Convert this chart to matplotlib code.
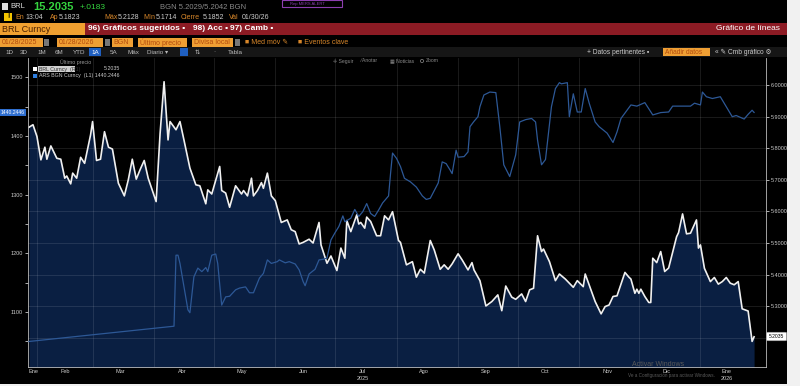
import matplotlib
matplotlib.use('Agg')

import numpy as np
import pandas as pd
import matplotlib.pyplot as plt
from matplotlib.patches import Rectangle, FancyBboxPatch, Ellipse

plt.rcParams['font.family'] = ['Liberation Sans', 'DejaVu Sans']

# days counted from 28/01/2025
start = pd.Timestamp('2025-01-28')

brl_day = [0, 2, 4, 6, 8, 9, 11, 14, 16, 18,
           19, 21, 22, 24, 26, 28, 30, 31, 32, 34,
           36, 38, 40, 42, 45, 48, 50, 52, 54, 56,
           58, 60, 64, 66, 68, 70, 71, 74, 76, 78,
           81, 84, 86, 89, 90, 92, 96, 97, 99, 101,
           104, 107, 108, 110, 112, 113, 115, 117, 118, 120,
           122, 124, 127, 130, 132, 134, 136, 138, 141, 143,
           146, 147, 150, 152, 155, 157, 159, 160, 162, 165,
           166, 167, 169, 170, 172, 175, 177, 179, 181, 183,
           186, 187, 190, 193, 195, 197, 199, 202, 204, 207,
           209, 211, 213, 216, 218, 221, 223, 224, 227, 230,
           233, 236, 238, 240, 243, 245, 248, 250, 252, 254,
           256, 258, 259, 262, 265, 267, 270, 274, 276, 279,
           280, 283, 285, 288, 290, 292, 294, 296, 300, 302,
           303, 305, 306, 307, 308, 310, 312, 313, 314, 316,
           318, 320, 322, 326, 327, 329, 331, 333, 336, 337,
           338, 340, 343, 345, 347, 349, 351, 353, 355, 357,
           359, 362, 364, 365]
brl_val = [5.866, 5.874, 5.837, 5.763, 5.803, 5.765, 5.807, 5.768, 5.765, 5.705,
           5.712, 5.687, 5.721, 5.705, 5.771, 5.752, 5.813, 5.842, 5.884, 5.761,
           5.765, 5.852, 5.803, 5.797, 5.689, 5.649, 5.700, 5.765, 5.702, 5.733,
           5.761, 5.705, 5.631, 5.847, 6.010, 5.826, 5.884, 5.858, 5.884, 5.826,
           5.737, 5.684, 5.681, 5.624, 5.668, 5.655, 5.742, 5.666, 5.658, 5.613,
           5.681, 5.655, 5.666, 5.649, 5.705, 5.649, 5.666, 5.691, 5.673, 5.721,
           5.649, 5.634, 5.565, 5.573, 5.542, 5.536, 5.497, 5.502, 5.512, 5.500,
           5.565, 5.494, 5.436, 5.459, 5.413, 5.484, 5.452, 5.571, 5.536, 5.589,
           5.560, 5.565, 5.547, 5.582, 5.568, 5.523, 5.523, 5.586, 5.573, 5.599,
           5.508, 5.502, 5.431, 5.441, 5.392, 5.417, 5.405, 5.508, 5.478, 5.417,
           5.431, 5.417, 5.434, 5.466, 5.447, 5.415, 5.438, 5.415, 5.381, 5.301,
           5.315, 5.336, 5.286, 5.364, 5.329, 5.322, 5.339, 5.315, 5.352, 5.357,
           5.523, 5.473, 5.481, 5.441, 5.381, 5.402, 5.386, 5.360, 5.381, 5.362,
           5.402, 5.350, 5.315, 5.276, 5.299, 5.304, 5.331, 5.333, 5.407, 5.392,
           5.386, 5.341, 5.354, 5.341, 5.354, 5.331, 5.312, 5.312, 5.452, 5.438,
           5.473, 5.410, 5.421, 5.520, 5.533, 5.592, 5.529, 5.531, 5.573, 5.484,
           5.494, 5.420, 5.378, 5.391, 5.370, 5.378, 5.391, 5.373, 5.368, 5.378,
           5.292, 5.285, 5.189, 5.2035]

ars_day = [0, 73, 74, 75, 76, 78, 80, 81, 83, 85,
           87, 89, 90, 92, 94, 95, 97, 99, 101, 104,
           106, 109, 111, 113, 116, 118, 120, 122, 125, 126,
           129, 131, 134, 136, 138, 139, 141, 144, 146, 148,
           150, 152, 154, 156, 158, 159, 162, 164, 166, 168,
           170, 172, 174, 176, 178, 180, 181, 182, 183, 185,
           187, 189, 192, 195, 198, 200, 202, 204, 206, 208,
           210, 212, 213, 215, 216, 219, 221, 222, 224, 226,
           227, 229, 232, 235, 237, 239, 242, 245, 247, 250,
           253, 255, 256, 258, 260, 263, 265, 267, 268, 271,
           272, 274, 276, 278, 280, 282, 285, 287, 291, 294,
           296, 298, 303, 306, 310, 314, 318, 322, 324, 333,
           335, 338, 339, 341, 344, 348, 351, 354, 356, 360,
           362, 364, 365]
ars_val = [1050, 1076, 1197, 1197, 1183, 1143, 1104, 1099, 1160, 1175,
           1169, 1176, 1169, 1197, 1199, 1183, 1112, 1126, 1127, 1138,
           1141, 1143, 1133, 1133, 1158, 1166, 1189, 1183, 1186, 1189,
           1184, 1186, 1182, 1172, 1152, 1145, 1165, 1173, 1189, 1190,
           1192, 1223, 1235, 1246, 1264, 1254, 1260, 1275, 1263, 1271,
           1285, 1268, 1263, 1274, 1286, 1294, 1298, 1336, 1371, 1362,
           1348, 1328, 1322, 1313, 1298, 1292, 1294, 1307, 1320, 1356,
           1353, 1342, 1336, 1376, 1364, 1365, 1373, 1416, 1425, 1433,
           1450, 1470, 1475, 1474, 1416, 1351, 1331, 1368, 1424, 1428,
           1430, 1424, 1393, 1351, 1360, 1450, 1481, 1491, 1489, 1491,
           1433, 1472, 1441, 1441, 1481, 1456, 1424, 1416, 1405, 1389,
           1407, 1430, 1453, 1451, 1457, 1436, 1440, 1441, 1451, 1451,
           1456, 1453, 1475, 1467, 1464, 1467, 1450, 1433, 1435, 1429,
           1437, 1444, 1440.2446]

month_names = ['Ene', 'Feb', 'Mar', 'Abr', 'May', 'Jun', 'Jul', 'Ago', 'Sep', 'Oct', 'Nov', 'Dic', 'Ene']
left_ticks = [1100, 1200, 1300, 1400, 1500]
right_ticks = [5.2, 5.3, 5.4, 5.5, 5.6, 5.7, 5.8, 5.9, 6.0]

W, H = 800, 386
fig = plt.figure(figsize=(8, 3.86), dpi=100, facecolor='#f1f1f1')


def fx(x):
    return x / W


def fy(y):
    return 1 - y / H


def box(x0, y0, x1, y1, color, z=1, **kw):
    fig.patches.append(Rectangle((fx(x0), fy(y1)), (x1 - x0) / W, (y1 - y0) / H,
                                 transform=fig.transFigure, facecolor=color,
                                 zorder=z, **kw))


def txt(x, y, s, color='white', size=5.5, **kw):
    kw.setdefault('zorder', 8)
    fig.text(fx(x), fy(y), s, color=color, fontsize=size, va='center', **kw)


# screenshot background
box(0, 0, 787, 384, 'black', z=-5)

# ---- header row 1
box(2, 3, 8, 10, '#dddddd')
txt(10, 7, 'BRL', '#dddddd', 5.5)
txt(33, 7.5, '15.2035', '#35d43f', 8, fontweight='bold')
txt(80, 7.5, '+.0183', '#35d43f', 6)
txt(160, 7.5, 'BGN 5.2029/5.2042 BGN', '#8a8a8a', 5.5)
box(282, 0, 342, 7, 'black', edgecolor='#8d3fb0', linewidth=0.8)
txt(290, 3.5, 'Rep MERS ALERT', '#8d3fb0', 3)

# ---- header row 2
box(4, 13, 12, 21, '#f2c400')
txt(8, 17, '!', 'black', 5, ha='center', fontweight='bold')
row2 = [(15, 'En', '#d8872a'), (25, '13:04', '#cccccc'), (50, 'Ap', '#d8872a'),
        (59, '5.1823', '#cccccc'), (104, 'Máx', '#d8872a'), (118, '5.2128', '#cccccc'),
        (143, 'Mín', '#d8872a'), (156, '5.1714', '#cccccc'), (181, 'Cierre', '#d8872a'),
        (203, '5.1852', '#cccccc'), (229, 'Val', '#d8872a'), (242, '01/30/26', '#cccccc')]
for x, s, c in row2:
    txt(x, 17.5, s, c, 5)

# ---- red bar
box(0, 23, 787, 35, '#8c1b24')
box(0, 23, 85, 35, '#f0a030')
txt(2, 29, 'BRL Curncy', '#4a2000', 6.5)
txt(88, 29, '96) Gráficos sugeridos ▪', 'white', 6, fontweight='bold')
txt(193, 29, '98) Acc ▪', 'white', 6, fontweight='bold')
txt(230, 29, '97) Camb ▪', 'white', 6, fontweight='bold')
txt(780, 29, 'Gráfico de líneas', 'white', 6, ha='right')

# ---- row 3: orange inputs
for x0, x1, s in [(0, 43, '01/28/2025'), (57, 103, '01/28/2026'), (112, 133, 'BGN'),
                  (138, 187, 'Último precio'), (192, 233, 'Divisa local')]:
    box(x0, 38, x1, 47, '#ef9f34')
    txt(x0 + 1.5, 42.5, s, '#b24a0c', 5)
for x in (44, 105, 235):
    box(x, 39, x + 5, 46, '#777777')
txt(245, 42.5, '■ Med móv ✎', '#d8872a', 5)
txt(298, 42.5, '■ Eventos clave', '#d8872a', 5)

# ---- row 4: periods
box(0, 47, 787, 57, '#161616')
for x, s in [(5, '1D'), (20, '3D'), (37, '1M'), (55, '6M'), (73, 'YTD'), (110, '5A'),
             (127, 'Máx'), (147, 'Diario ▾'), (195, '⇅'), (213, '·'), (228, 'Tabla')]:
    txt(x, 52, s, '#bbbbbb', 4.5)
box(89, 48, 101, 56, '#1f5fc0')
txt(91, 52, '1A', 'white', 4.5)
box(180, 48, 188, 56, '#1f5fc0')
txt(587, 52, '+ Datos pertinentes ▪', '#cccccc', 4.8)
box(663, 48, 710, 56, '#ef9f34')
txt(665, 52, 'Añadir datos', '#b24a0c', 4.8)
txt(715, 52, '« ✎ Cmb gráfico ⚙', '#cccccc', 4.8)

# ---- chart
ax = fig.add_axes([fx(28), fy(367), (766 - 28) / W, (367 - 58) / H])
ax.set_facecolor('black')
brl_dates = start + pd.to_timedelta(brl_day, unit='D')
ars_dates = start + pd.to_timedelta(ars_day, unit='D')

ax.fill_between(brl_dates, brl_val, 5.0, color='#0a1f42', lw=0, zorder=1)
ax.plot(brl_dates, brl_val, color='#f0f0f0', lw=1.2, zorder=4)
ax.set_ylim(5.108, 6.085)
ax.set_xlim(start - pd.Timedelta(days=0.5), start + pd.Timedelta(days=371))

month_starts = pd.date_range('2025-02-01', '2026-01-01', freq='MS')
mid_months = pd.date_range('2025-02-01', '2025-12-01', freq='MS') + pd.Timedelta(days=14)
label_pos = [pd.Timestamp('2025-01-30')] + list(mid_months) + [pd.Timestamp('2026-01-14')]
ax.set_xticks(month_starts)
ax.set_xticklabels([])
ax.set_xticks(label_pos, minor=True)
ax.set_xticklabels(month_names, minor=True)
ax.tick_params(axis='x', which='both', length=0, colors='#cccccc', labelsize=4, pad=1.5)
ax.grid(axis='y', color='white', alpha=0.12, lw=0.6)
ax.grid(axis='x', which='major', color='white', alpha=0.12, lw=0.6)
for sp in ['top', 'left']:
    ax.spines[sp].set_visible(False)
ax.spines['right'].set_color('#bbbbbb')
ax.spines['bottom'].set_color('#bbbbbb')
ax.spines['right'].set_linewidth(0.6)
ax.spines['bottom'].set_linewidth(0.6)

xt = ax.get_xaxis_transform()
ax.text(pd.Timestamp('2025-07-15'), -0.036, '2025', transform=xt, ha='center', va='center',
        color='#cccccc', fontsize=4)
ax.text(pd.Timestamp('2026-01-14'), -0.036, '2026', transform=xt, ha='center', va='center',
        color='#cccccc', fontsize=4)

ax2 = ax.twinx()
ax2.plot(ars_dates, ars_val, color='#2d5896', lw=0.9, zorder=3)
ax2.set_ylim(1006.5, 1533)

# twinx moves the first axis to the left, put things back
ax.yaxis.tick_right()
ax.yaxis.set_label_position('right')
ax.set_yticks(right_ticks)
ax.set_yticklabels(['' if v < 5.25 else '%.4f' % v for v in right_ticks])
ax.tick_params(axis='y', colors='#cccccc', labelsize=4, length=2, width=0.6, pad=1.5)

ax2.yaxis.tick_left()
ax2.yaxis.set_label_position('left')
ax2.set_yticks(left_ticks)
ax2.set_yticks(np.arange(1050, 1550, 100), minor=True)
ax2.tick_params(axis='y', which='both', colors='#cccccc', labelsize=4, length=2, width=0.6, pad=1.5)
ax2.spines['left'].set_visible(True)
ax2.spines['left'].set_color('#bbbbbb')
ax2.spines['left'].set_linewidth(0.6)
for sp in ['top', 'right', 'bottom']:
    ax2.spines[sp].set_visible(False)

# chart toolbar
for x, s in [(333, '✛ Seguir'), (360, '⁄ Anotar'), (390, '▦ Noticias'), (426, 'Zoom')]:
    txt(x, 61, s, '#8a8a8a', 3.6)
fig.patches.append(Ellipse((fx(422), fy(61)), 3.2 / W, 3.2 / H, transform=fig.transFigure,
                           facecolor='none', edgecolor='#8a8a8a', lw=0.5, zorder=8))

# legend
txt(60, 62, 'Último precio', '#9a9a9a', 3.8)
box(33, 67, 37, 71, 'white', z=5)
box(38, 66.5, 75, 71.5, '#cfcfcf', z=5)
txt(39, 69, 'BRL Curncy  (R1)', '#333333', 3.8)
txt(120, 69, '5.2035', '#cccccc', 3.8, ha='right')
box(33, 74, 37, 78, '#2f7fe0', z=5)
txt(39, 76, 'ARS BGN Curncy  (L1) 1440.2446', '#cccccc', 3.8)

# last value labels
box(0, 109, 26, 116, '#2f6fd0', z=5)
txt(13, 112.5, '1440.2446', 'white', 3.6, ha='center')
fig.patches.append(FancyBboxPatch((fx(768), fy(340)), 17 / W, 7 / H,
                                  boxstyle='round,pad=0.002', transform=fig.transFigure,
                                  facecolor='white', edgecolor='#999999', lw=0.4, zorder=5))
txt(776.5, 336.5, '5.2035', 'black', 3.6, ha='center')

# windows watermark
txt(632, 364, 'Activar Windows', '#5a5a5a', 5, zorder=2)
txt(628, 376, 'Ve a Configuración para activar Windows.', '#5a5a5a', 3.3, zorder=2)

fig.savefig('out.png', dpi=100, facecolor=fig.get_facecolor())
